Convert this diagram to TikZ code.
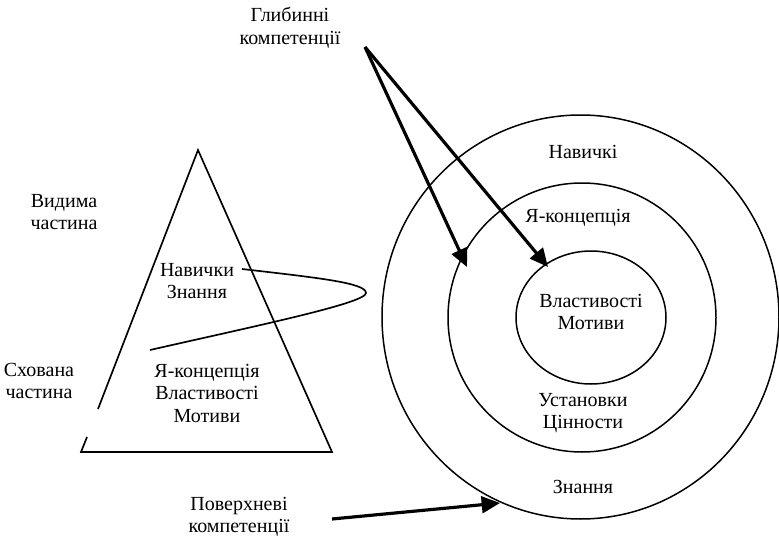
\documentclass[tikz,border=0pt]{standalone}
\usepackage{fontspec}
\setmainfont{Liberation Serif}
\usetikzlibrary{arrows.meta,
	shapes.geometric}

\begin{document}
\begin{tikzpicture}[x=0.6pt,y=-0.6pt,font=\fontsize{12}{13.5}\selectfont]
    \tikzstyle{ring}=[ellipse,draw,line width=0.9pt,inner sep=0pt]
    \tikzstyle{txt}=[align=center,inner sep=0pt]
    \tikzstyle{pointer}=[line width=1.9pt,-{Triangle[length=11pt,width=10pt]}]
    \useasboundingbox (0,0) rectangle (779,537);
    % iceberg
    \draw[line width=1pt] (98,409) -- (198,150) -- (332,452) -- (81,452) -- (87,437);
    \draw[line width=1pt] (242,269) .. controls (320,278) and (366,283) .. (366,293)
        .. controls (366,303) and (260,325) .. (150,350);
    \node[txt] (visible) at (64,212) {Видима\\частина};
    \node[txt] (hidden) at (39,381) {Схована\\частина};
    \node[txt] (top) at (197,281) {Навички\\Знання};
    \node[txt] (base) at (207,393) {Я-концепція\\Властивості\\Мотиви};
    % rings
    \node[ring,minimum width=238.2pt,minimum height=242.4pt] (outer) at (580.5,317) {};
    \node[ring,minimum width=160.8pt,minimum height=161.4pt] (mid) at (582,317.5) {};
    \node[ring,minimum width=90pt,minimum height=79.8pt] (inner) at (591,317.5) {};
    \node[txt] (skills) at (583,152) {Навичкі};
    \node[txt] (self) at (578,218) {Я-концепція};
    \node[txt] (core) at (591,312) {Властивості\\Мотиви};
    \node[txt] (values) at (583,413) {Установки\\Цінности};
    \node[txt] (know) at (583,487) {Знання};
    % pointers
    \node[txt] (deeplbl) at (290,28) {Глибинні\\компетенції};
    \node[txt] (surflbl) at (239,517) {Поверхневі\\компетенції};
    \coordinate (deep) at (365,47);
    \coordinate (surf) at (332,519);
    \coordinate (t_1) at (467,267);
    \coordinate (t_2) at (548,267);
    \coordinate (t_3) at (500,503);
    \draw[pointer] (deep) -- (t_1);
    \draw[pointer] (deep) -- (t_2);
    \draw[pointer] (surf) -- (t_3);
\end{tikzpicture}
\end{document}
